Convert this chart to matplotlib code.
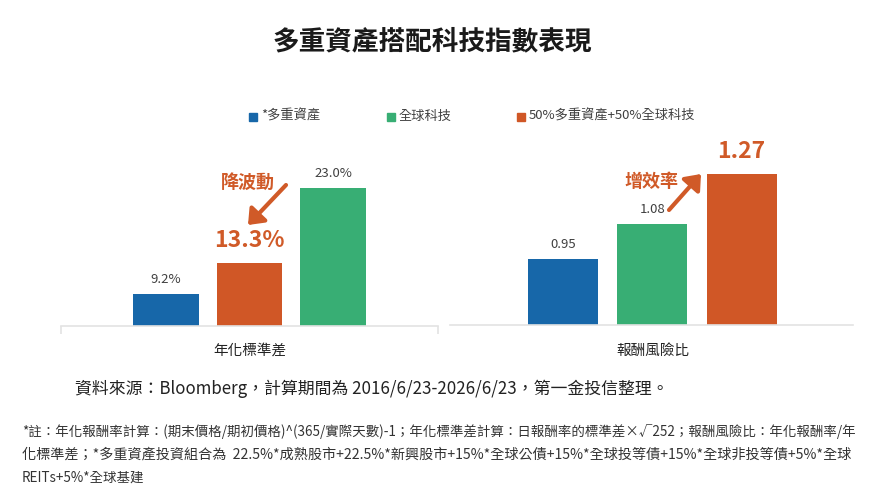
import matplotlib
matplotlib.use("Agg")
import matplotlib.pyplot as plt
from matplotlib.patches import FancyArrowPatch

plt.rcParams['font.family'] = ['Noto Sans CJK TC', 'DejaVu Sans']

# ---- data ----
title = "多重資產搭配科技指數表現"
series_names = ["*多重資產", "全球科技", "50%多重資產+50%全球科技"]
series_colors = ["#1767A9", "#38AE74", "#D05726"]

left_category = "年化標準差"
left_order = ["*多重資產", "50%多重資產+50%全球科技", "全球科技"]
left_values = [9.2, 13.3, 23.0]
left_labels = ["9.2%", "13.3%", "23.0%"]

right_category = "報酬風險比"
right_order = ["*多重資產", "全球科技", "50%多重資產+50%全球科技"]
right_values = [0.95, 1.08, 1.27]
right_labels = ["0.95", "1.08", "1.27"]

left_note = "降波動"
right_note = "增效率"

source_text = "資料來源：Bloomberg，計算期間為 2016/6/23-2026/6/23，第一金投信整理。"
footnotes = [
    "*註：年化報酬率計算：(期末價格/期初價格)^(365/實際天數)-1；年化標準差計算：日報酬率的標準差×√252；報酬風險比：年化報酬率/年",
    "化標準差；*多重資產投資組合為  22.5%*成熟股市+22.5%*新興股市+15%*全球公債+15%*全球投等債+15%*全球非投等債+5%*全球",
    "REITs+5%*全球基建",
]

W, H = 871, 492
fig = plt.figure(figsize=(W / 100, H / 100), dpi=100)
fig.patch.set_facecolor("white")

def fx(px):
    return px / W

def fy(py):
    return 1 - py / H

color_of = dict(zip(series_names, series_colors))
ORANGE_TXT = "#D05A28"
AXIS_GRAY = "#E3E3E3"

def make_panel(rect, order, values, labels, ylim, xlim, width, end_ticks):
    ax = fig.add_axes(rect)
    xs = list(range(len(values)))
    ax.bar(xs, values, width=width, color=[color_of[n] for n in order],
           bottom=0, zorder=2)
    ax.set_ylim(*ylim)
    ax.set_xlim(*xlim)
    for s in ["top", "right", "left"]:
        ax.spines[s].set_visible(False)
    ax.spines["bottom"].set_color(AXIS_GRAY)
    ax.spines["bottom"].set_linewidth(1.2)
    ax.set_yticks([])
    if end_ticks:
        ax.set_xticks([xlim[0] + 0.005, xlim[1] - 0.005])
    else:
        ax.set_xticks([])
    ax.set_xticklabels([])
    ax.tick_params(axis="x", length=6, width=1.2, color=AXIS_GRAY)
    for i, (v, lab, n) in enumerate(zip(values, labels, order)):
        if n == "50%多重資產+50%全球科技":
            ax.annotate(lab, xy=(i, v), xytext=(0, 16), textcoords="offset points",
                        ha="center", va="center", fontsize=16.5,
                        fontweight="bold", color=ORANGE_TXT)
        else:
            ax.annotate(lab, xy=(i, v), xytext=(0, 10.5), textcoords="offset points",
                        ha="center", va="center", fontsize=9.5, color="#404040")
    return ax

# left panel: x 61..438 px, baseline 326, top 140
axL = make_panel([fx(61), fy(326), fx(438) - fx(61), fy(140) - fy(326)],
                 left_order, left_values, left_labels,
                 (5.04, 5.04 + 186 / 7.68), (-1.257, 3.257), 0.787, True)
# right panel: x 450..853 px, baseline 325, top 140
axR = make_panel([fx(450), fy(325), fx(853) - fx(450), fy(140) - fy(325)],
                 right_order, right_values, right_labels,
                 (0.70, 0.70 + 185 / 265.0), (-1.27, 3.248), 0.785, False)

# category labels
fig.text(fx(250), fy(351), left_category, ha="center", va="center", fontsize=10.5, color="#222222")
fig.text(fx(653), fy(351), right_category, ha="center", va="center", fontsize=10.5, color="#222222")

# title
fig.text(fx(432), fy(42), title, ha="center", va="center", fontsize=19.2,
         fontweight="bold", color="#1a1a1a")

# legend
leg_items = [(249, series_names[0]), (387, series_names[1]), (517, series_names[2])]
for x0, name in leg_items:
    fig.patches.append(plt.Rectangle((fx(x0), fy(120.5)), fx(8), 8 / H,
                                     transform=fig.transFigure, color=color_of[name]))
    fig.text(fx(x0 + 12), fy(116), name, ha="left", va="center", fontsize=9.5, color="#404040")

# annotations
fig.text(fx(247.5), fy(182), left_note, ha="center", va="center", fontsize=13,
         fontweight="bold", color=ORANGE_TXT)
fig.text(fx(651.5), fy(181.5), right_note, ha="center", va="center", fontsize=13,
         fontweight="bold", color=ORANGE_TXT)

def arrow(p0, p1):
    a = FancyArrowPatch((fx(p0[0]), fy(p0[1])), (fx(p1[0]), fy(p1[1])),
                        transform=fig.transFigure, arrowstyle="-|>,head_length=5,head_width=4",
                        mutation_scale=1.7, lw=3, color=ORANGE_TXT, shrinkA=0, shrinkB=0)
    fig.patches.append(a)

arrow((286, 185), (248, 225))
arrow((669, 210), (701, 174))

# source & footnotes with fitted widths
fig.canvas.draw()
renderer = fig.canvas.get_renderer()

def fit_text(x, y, s, target_w, size, color):
    t = fig.text(fx(x), fy(y), s, ha="left", va="center", fontsize=size, color=color)
    w = t.get_window_extent(renderer).width
    t.set_fontsize(size * target_w / w)
    return t.get_fontsize()

fit_text(75, 389, source_text, 592, 12, "#222222")
fs = fit_text(22, 432, footnotes[0], 833, 9, "#333333")
fit_text(22, 455, footnotes[1], 831, 9, "#333333")
fig.text(fx(22), fy(478), footnotes[2], ha="left", va="center", fontsize=fs, color="#333333")

fig.savefig("out.png", dpi=100, facecolor="white")
